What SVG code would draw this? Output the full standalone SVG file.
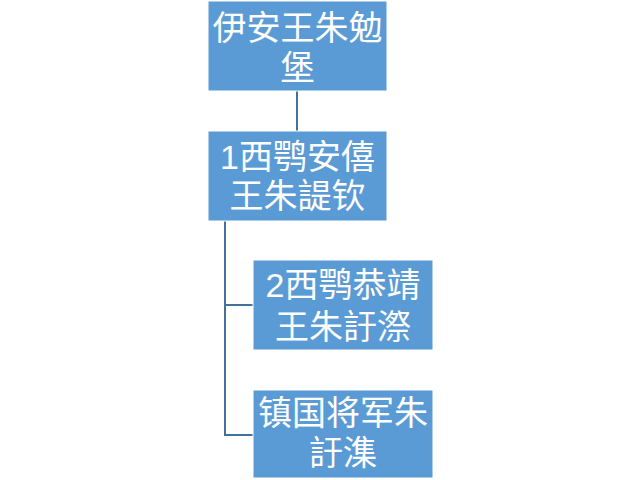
<svg xmlns="http://www.w3.org/2000/svg" width="640" height="480" viewBox="0 0 640 480">
<style>
.box{fill:#5b9bd5;stroke:#ffffff;stroke-width:1}
.t{font-family:"Liberation Sans","Noto Sans CJK SC",sans-serif;font-size:34px;fill:#ffffff;text-anchor:middle}
.c{fill:none;stroke:#41719c;stroke-width:2}
</style>
<rect width="640" height="480" fill="#ffffff"/>
<g id="connectors">
<line class="c" x1="297" y1="91" x2="297" y2="131"/>
<polyline class="c" points="225,221 225,435 253,435"/>
<line class="c" x1="225" y1="305" x2="253" y2="305"/>
</g>
<g id="node1">
<rect class="box" x="208" y="1" width="179" height="90"/>
<text class="t"><tspan x="297.5" y="40">伊安王朱勉</tspan><tspan x="297.5" y="80">堡</tspan></text>
</g>
<g id="node2">
<rect class="box" x="208" y="131" width="179" height="90"/>
<text class="t"><tspan x="297.5" y="169">1西鹗安僖</tspan><tspan x="297.5" y="208">王朱諟钦</tspan></text>
</g>
<g id="node3">
<rect class="box" x="253" y="260" width="180" height="90"/>
<text class="t"><tspan x="343" y="297">2西鹗恭靖</tspan><tspan x="343" y="339">王朱訏漈</tspan></text>
</g>
<g id="node4">
<rect class="box" x="253" y="390" width="180" height="88"/>
<text class="t"><tspan x="343" y="425">镇国将军朱</tspan><tspan x="343" y="465">訏潗</tspan></text>
</g>
</svg>
